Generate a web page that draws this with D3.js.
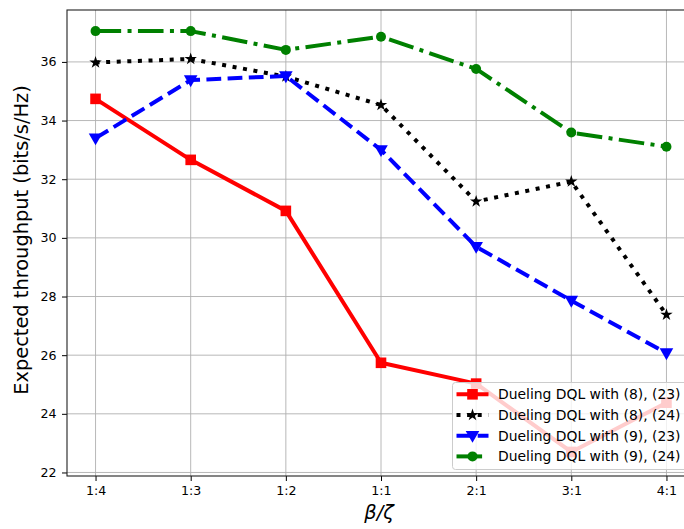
<!DOCTYPE html>
<html>
<head>
<meta charset="utf-8">
<script src="https://cdn.jsdelivr.net/npm/d3@7"></script>
<style>
  html, body { margin: 0; padding: 0; background: #fff; }
  svg { display: block; }
  text { font-family: "DejaVu Sans", sans-serif; }
</style>
</head>
<body>
<svg id="chart" width="684" height="529"></svg>
<script>
const categories = ["1:4", "1:3", "1:2", "1:1", "2:1", "3:1", "4:1"];
const yTicks = [22, 24, 26, 28, 30, 32, 34, 36];
const seriesNames = [
  "Dueling DQL with (8), (23)",
  "Dueling DQL with (8), (24)",
  "Dueling DQL with (9), (23)",
  "Dueling DQL with (9), (24)"
];
const values823 = [34.74, 32.66, 30.92, 25.74, 25.03, 22.70, 24.38];
const values824 = [35.98, 36.10, 35.50, 34.53, 31.24, 31.92, 27.38];
const values923 = [33.40, 35.38, 35.52, 33.00, 29.70, 27.86, 26.07];
const values924 = [37.05, 37.05, 36.41, 36.86, 35.76, 33.59, 33.11];

const series = [
  { name: seriesNames[0], values: values823, color: "#ff0000", dash: null, marker: "square" },
  { name: seriesNames[1], values: values824, color: "#000000", dash: "4,6.6", marker: "star" },
  { name: seriesNames[2], values: values923, color: "#0000ff", dash: "14.8,6.4", marker: "triangle" },
  { name: seriesNames[3], values: values924, color: "#008000", dash: "25.6,6.4,4,6.4", marker: "circle" }
];

const svg = d3.select("#chart");
const L = 67, T = 10, R = 695, B = 476;
const x = d3.scaleLinear().domain([-0.3, 6.3]).range([L, R]);
const y = d3.scaleLinear().domain([21.88, 37.77]).range([B, T]);

svg.append("defs").append("clipPath").attr("id", "clip")
  .append("rect").attr("x", L).attr("y", T).attr("width", R - L).attr("height", B - T);

// grid
const grid = svg.append("g");
categories.forEach((c, i) => {
  grid.append("line").attr("x1", x(i)).attr("x2", x(i)).attr("y1", T).attr("y2", B)
    .attr("stroke", "#b0b0b0").attr("stroke-width", 0.9);
});
yTicks.forEach(v => {
  grid.append("line").attr("x1", L).attr("x2", R).attr("y1", y(v)).attr("y2", y(v))
    .attr("stroke", "#b0b0b0").attr("stroke-width", 0.9);
});

// axes
const xAxis = d3.axisBottom(x).tickValues(d3.range(categories.length))
  .tickFormat(i => categories[i]).tickSizeOuter(0).tickSize(5).tickPadding(5.5);
const gx = svg.append("g").attr("transform", `translate(0,${B})`).call(xAxis);
gx.select(".domain").remove();
gx.selectAll("text").attr("font-size", "12.6px").attr("fill", "#000").attr("font-family", "DejaVu Sans");
gx.selectAll("line").attr("stroke", "#000").attr("stroke-width", 1);

const yAxis = d3.axisLeft(y).tickValues(yTicks).tickSizeOuter(0).tickSize(5).tickPadding(5.5);
const gy = svg.append("g").attr("transform", `translate(${L},0)`).call(yAxis);
gy.select(".domain").remove();
gy.selectAll("text").attr("font-size", "12.6px").attr("fill", "#000").attr("font-family", "DejaVu Sans");
gy.selectAll("line").attr("stroke", "#000").attr("stroke-width", 1);

// spines
svg.append("rect").attr("x", L).attr("y", T).attr("width", R - L).attr("height", B - T)
  .attr("fill", "none").attr("stroke", "#222").attr("stroke-width", 1.1);

function drawMarker(g, type, cx, cy, color, scale) {
  const s = scale || 1;
  if (type === "square") {
    const h = 5.3 * s;
    g.append("rect").attr("x", cx - h).attr("y", cy - h).attr("width", 2 * h).attr("height", 2 * h)
      .attr("fill", color);
  } else if (type === "circle") {
    g.append("circle").attr("cx", cx).attr("cy", cy).attr("r", 5 * s).attr("fill", color);
  } else if (type === "triangle") {
    const r = 6.8 * s;
    const pts = [[cx - r, cy - r * 0.7], [cx + r, cy - r * 0.7], [cx, cy + r * 1.05]];
    g.append("path").attr("d", d3.line()(pts) + "Z").attr("fill", color);
  } else if (type === "star") {
    const sym = d3.symbol().type(d3.symbolStar).size(48 * s * s);
    g.append("path").attr("d", sym()).attr("transform", `translate(${cx},${cy})`).attr("fill", color);
  }
}

const plot = svg.append("g").attr("clip-path", "url(#clip)");
const line = d3.line().x((d, i) => x(i)).y(d => y(d));
series.forEach(s => {
  const p = plot.append("path").datum(s.values).attr("d", line)
    .attr("fill", "none").attr("stroke", s.color).attr("stroke-width", 4)
    .attr("stroke-linejoin", "round");
  if (s.dash) p.attr("stroke-dasharray", s.dash);
  s.values.forEach((v, i) => drawMarker(plot, s.marker, x(i), y(v), s.color));
});

// legend
const lg = svg.append("g");
const lx = 452.5, ly = 382.5, lw = 245, lh = 87;
lg.append("rect").attr("x", lx).attr("y", ly).attr("width", lw).attr("height", lh)
  .attr("rx", 3).attr("fill", "#fff").attr("fill-opacity", 0.8)
  .attr("stroke", "#cccccc").attr("stroke-width", 1);
series.forEach((s, k) => {
  const ry = 394.3 + k * 20.7;
  const l = lg.append("line").attr("x1", 456.5).attr("x2", 488.5).attr("y1", ry).attr("y2", ry)
    .attr("stroke", s.color).attr("stroke-width", 4);
  if (s.dash) l.attr("stroke-dasharray", s.dash);
  drawMarker(lg, s.marker, 472.5, ry, s.color);
  lg.append("text").attr("x", 498).attr("y", ry + 5).attr("font-size", "13.9px").attr("fill", "#000")
    .text(s.name);
});

// axis labels
svg.append("text").attr("transform", `translate(27.5,${(T + B) / 2 - 3}) rotate(-90)`)
  .attr("text-anchor", "middle").attr("font-size", "19.4px").attr("fill", "#000")
  .text("Expected throughput (bits/s/Hz)");
svg.append("text").attr("x", 379).attr("y", 519)
  .attr("text-anchor", "middle").attr("font-size", "19.4px").attr("font-style", "italic").attr("fill", "#000")
  .text("β/ζ");
</script>
</body>
</html>
